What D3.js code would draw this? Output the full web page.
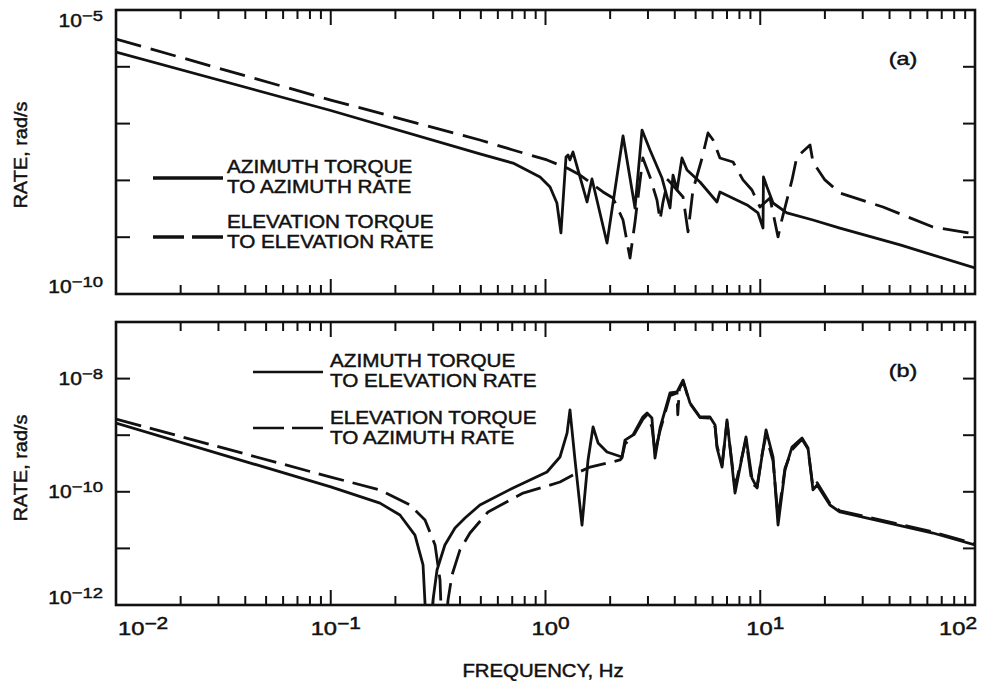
<!DOCTYPE html>
<html><head><meta charset="utf-8">
<script src="https://cdn.jsdelivr.net/npm/d3@7"></script>
<style>body{margin:0;background:#fff}svg{display:block}</style>
</head><body>
<svg id="chart" width="981" height="681"></svg>
<script>
// ---------- data ----------
const freqDomain = [0.01, 100];
const xTickValues = [0.01, 0.1, 1, 10, 100];
const xTickExps = ["−2", "−1", "0", "1", "2"];
const rangeA = [1e-10, 1e-5];
const rangeB = [1e-12, 1e-7];
const yTickValuesA = [1e-5, 1e-10];
const yTickExpsA = ["−5", "−10"];
const yTickValuesB = [1e-8, 1e-10, 1e-12];
const yTickExpsB = ["−8", "−10", "−12"];
const legendA = [["AZIMUTH TORQUE", "TO AZIMUTH RATE"], ["ELEVATION TORQUE", "TO ELEVATION RATE"]];
const legendB = [["AZIMUTH TORQUE", "TO ELEVATION RATE"], ["ELEVATION TORQUE", "TO AZIMUTH RATE"]];

// (a) azimuth torque -> azimuth rate (solid)
const azAzFreq = [0.01, 0.1, 0.495, 0.706, 0.943, 1.05, 1.13, 1.18, 1.246, 1.273, 1.30, 1.343, 1.561, 1.646, 1.934, 2.296, 2.611, 2.815, 3.066, 3.487, 3.80, 3.925, 4.096, 4.32, 4.56, 5.24, 6.29, 6.49, 8.68, 9.76, 10.3, 10.35, 10.75, 11.47, 13.3, 17.6, 23.5, 44.8, 100];
const azAzRate = [1.82e-6, 1.70e-7, 2.92e-8, 2.02e-8, 1.15e-8, 7.65e-9, 4.0e-9, 1.19e-9, 2.58e-8, 2.80e-8, 2.3e-8, 3.16e-8, 4.17e-9, 1.06e-8, 7.9e-10, 6.05e-8, 3.27e-9, 7.7e-8, 3.43e-8, 1.10e-8, 3.27e-9, 1.24e-8, 6.78e-9, 2.48e-8, 1.52e-8, 9.37e-9, 4.17e-9, 6.25e-9, 3.69e-9, 2.67e-9, 1.45e-9, 1.15e-8, 7.65e-9, 4.0e-9, 2.67e-9, 2.01e-9, 1.45e-9, 7.3e-10, 2.87e-10];
// (a) elevation torque -> elevation rate (dashed)
const elElFreq = [0.01, 0.1, 0.495, 0.706, 1.016, 1.26, 1.448, 1.853, 2.062, 2.296, 2.475, 2.611, 2.84, 3.066, 3.305, 3.415, 3.525, 3.72, 4.37, 4.61, 4.86, 5.36, 5.71, 6.03, 6.49, 7.47, 8.31, 9.15, 9.97, 11.1, 12.1, 12.6, 14.06, 14.8, 17.05, 17.6, 20.0, 23.5, 37.3, 63.7, 100];
const elElRate = [3.08e-6, 2.60e-7, 5.14e-8, 3.43e-8, 2.29e-8, 1.65e-8, 1.24e-8, 6.25e-9, 4.9e-9, 2.01e-9, 4.3e-10, 1.85e-9, 2.48e-8, 1.15e-8, 4.5e-9, 2.01e-9, 4.17e-9, 1.02e-8, 5.1e-9, 1.24e-9, 6.78e-9, 2.48e-8, 6.84e-8, 5.14e-8, 2.48e-8, 2.11e-8, 1.02e-8, 6.78e-9, 3.4e-9, 4.9e-9, 1.01e-9, 2.01e-9, 1.02e-8, 2.58e-8, 4.2e-8, 2.11e-8, 1.02e-8, 6.0e-9, 3.4e-9, 1.51e-9, 1.14e-9];
// (b) azimuth torque -> elevation rate (solid)
const azElFreq = [0.01, 0.1, 0.1696, 0.210, 0.2467, 0.269, 0.2838, 0.2993, 0.3125, 0.340, 0.379, 0.4218, 0.495, 0.706, 1.016, 1.168, 1.26, 1.30, 1.372, 1.479, 1.578, 1.665, 1.757, 1.934, 2.27, 2.345, 2.556, 2.84, 2.97, 3.13, 3.235, 3.415, 3.80, 4.096, 4.37, 4.71, 5.24, 5.83, 6.16, 6.29, 6.64, 7.0, 7.63, 8.58, 9.15, 9.66, 10.64, 11.47, 12.1, 13.04, 14.06, 15.65, 16.69, 17.6, 18.4, 21.1, 23.5, 63.7, 100];
const azElRate = [1.64e-9, 1.22e-10, 6.3e-11, 3.89e-11, 1.72e-11, 5.1e-12, 1e-13, 1.22e-12, 4.15e-12, 1.15e-11, 2.29e-11, 3.44e-11, 5.85e-11, 1.17e-10, 2.24e-10, 4.12e-10, 1.09e-9, 2.79e-9, 3.65e-10, 2.59e-11, 3.65e-10, 1.40e-9, 7.3e-10, 5.05e-10, 4.12e-10, 8.2e-10, 1.01e-9, 2.10e-9, 2.47e-9, 2.01e-9, 3.95e-10, 1.34e-9, 5.57e-9, 5.8e-9, 9.4e-9, 3.7e-9, 2.10e-9, 2.10e-9, 1.51e-9, 5.94e-10, 2.74e-10, 1.86e-9, 9.5e-11, 9.3e-10, 1.75e-10, 1.17e-10, 1.24e-9, 4.12e-10, 2.59e-11, 2.43e-10, 6.2e-10, 8.9e-10, 5.94e-10, 1.08e-10, 1.32e-10, 5.85e-11, 4.4e-11, 1.87e-11, 1.15e-11];
// (b) elevation torque -> azimuth rate (dashed)
const elAzFreq = [0.01, 0.1, 0.1696, 0.2339, 0.2748, 0.306, 0.3227, 0.3332, 0.3516, 0.367, 0.3997, 0.445, 0.54, 0.786, 1.016, 1.168, 1.402, 1.612, 2.223, 2.27, 2.345, 2.556, 2.84, 2.97, 3.13, 3.235, 3.415, 3.80, 4.096, 4.13, 4.2, 4.37, 4.71, 5.24, 5.83, 6.16, 6.29, 6.64, 7.0, 7.63, 8.58, 9.15, 9.66, 10.2, 10.64, 11.47, 12.1, 13.04, 14.06, 15.65, 16.69, 17.6, 18.4, 21.1, 23.5, 63.7, 100];
const elAzRate = [1.93e-9, 1.82e-10, 1.08e-10, 5.85e-11, 3.18e-11, 1.15e-11, 2.77e-12, 1e-13, 1.22e-12, 3.39e-12, 9.4e-12, 1.87e-11, 4.4e-11, 9.5e-11, 1.26e-10, 1.49e-10, 2.15e-10, 2.74e-10, 3.65e-10, 4.0e-10, 7.0e-10, 9.5e-10, 1.9e-9, 2.3e-9, 1.4e-9, 5.0e-10, 1.2e-9, 5.0e-9, 5.6e-9, 2.3e-9, 6.5e-9, 9.0e-9, 3.6e-9, 2.05e-9, 2.0e-9, 1.4e-9, 6.5e-10, 3.0e-10, 1.7e-9, 1.2e-10, 8.5e-10, 1.4e-10, 1.2e-10, 4.6e-10, 1.0e-9, 3.5e-10, 3.5e-11, 2.6e-10, 5.5e-10, 8.5e-10, 5.7e-10, 1.2e-10, 1.45e-10, 6.2e-11, 4.6e-11, 1.95e-11, 1.2e-11];

// ---------- layout ----------
const FONT = "'Liberation Sans', Arial, Helvetica, sans-serif";
const INK = "#111";
const L = 116, R = 975;
const panels = [
  {top: 10, bottom: 294, range: rangeA, ticks: yTickValuesA, exps: yTickExpsA, tag: "(a)", tagY: 65,
   series: [[azAzFreq, azAzRate, null], [elElFreq, elElRate, "26,10"]],
   legend: legendA, legLineX: [153, 223], legTextX: 227, legY: [178, 237], legTextBase: [173, 228], legW: 3,
   titleY: 155},
  {top: 322, bottom: 605, range: rangeB, ticks: yTickValuesB, exps: yTickExpsB, tag: "(b)", tagY: 377,
   series: [[azElFreq, azElRate, null], [elAzFreq, elAzRate, "26,9"]],
   legend: legendB, legLineX: [253, 323], legTextX: 330, legY: [372, 428], legTextBase: [367, 424], legW: 2,
   titleY: 468}
];

const svg = d3.select("#chart");
const x = d3.scaleLog().domain(freqDomain).range([L, R]);

function ink(t, w) {
  return t.attr("font-family", FONT).attr("fill", INK).attr("stroke", INK).attr("stroke-width", w);
}
function powerText(g, px, py, size, sx, anchor, base, sup) {
  const t = ink(g.append("text"), 0.45)
    .attr("transform", `translate(${px},${py}) scale(${sx},1)`)
    .attr("font-size", size).attr("text-anchor", anchor);
  t.append("tspan").text(base);
  if (sup) t.append("tspan").attr("dy", -6).attr("font-size", size * 0.88).text(sup);
  return t;
}

panels.forEach((p, pi) => {
  const g = svg.append("g");
  const y = d3.scaleLog().domain(p.range).range([p.bottom, p.top]);
  const clipId = "clip" + pi;
  svg.append("clipPath").attr("id", clipId).append("rect")
    .attr("x", L).attr("y", p.top).attr("width", R - L).attr("height", p.bottom - p.top);

  const isDecade = v => Math.abs(Math.log10(v) - Math.round(Math.log10(v))) < 1e-9;
  // x ticks (top and bottom, inward)
  x.ticks().forEach(v => {
    const len = isDecade(v) ? 15 : 9;
    const xx = x(v);
    if (xx <= L + 1 || xx >= R - 1) return;
    [[p.bottom, p.bottom - len], [p.top, p.top + len]].forEach(([a, b]) =>
      g.append("line").attr("x1", xx).attr("x2", xx).attr("y1", a).attr("y2", b)
        .attr("stroke", INK).attr("stroke-width", 2));
  });
  // y decade ticks (left and right, inward)
  y.ticks().filter(isDecade).forEach(v => {
    const yy = y(v);
    if (yy <= p.top + 1 || yy >= p.bottom - 1) return;
    g.append("line").attr("x1", L).attr("x2", L + 14).attr("y1", yy).attr("y2", yy)
      .attr("stroke", INK).attr("stroke-width", 2);
    g.append("line").attr("x1", R).attr("x2", R - 12).attr("y1", yy).attr("y2", yy)
      .attr("stroke", INK).attr("stroke-width", 2);
  });

  // frame
  g.append("rect").attr("x", L).attr("y", p.top).attr("width", R - L).attr("height", p.bottom - p.top)
    .attr("fill", "none").attr("stroke", INK).attr("stroke-width", 2.6);

  // y tick labels
  p.ticks.forEach((v, i) => {
    let yy = y(v) + 6;
    if (yy < p.top + 17) yy = p.top + 17;
    if (yy > p.bottom - 1) yy = p.bottom - 1;
    powerText(g, 103, yy, 17.5, 1.2, "end", "10", p.exps[i]);
  });

  // y title
  ink(g.append("text"), 0.45).attr("transform", `translate(27,${p.titleY}) rotate(-90) scale(1.05,1)`)
    .attr("font-size", 19).attr("text-anchor", "middle").text("RATE, rad/s");

  // panel tag
  powerText(g, 903, p.tagY, 18, 1.3, "middle", p.tag);

  // curves
  const line = d3.line().x(d => x(d[0])).y(d => y(d[1]));
  p.series.forEach(([fs, rs, dash]) => {
    const pts = fs.map((f, i) => [f, rs[i]]);
    g.append("path").attr("d", line(pts)).attr("clip-path", `url(#${clipId})`)
      .attr("fill", "none").attr("stroke", INK).attr("stroke-width", 2.8)
      .attr("stroke-linejoin", "round")
      .attr("stroke-dasharray", dash);
  });

  // legend
  p.legend.forEach((lines, li) => {
    const ly = p.legY[li];
    const segs = li === 0 ? [[p.legLineX[0], p.legLineX[1]]]
      : [[p.legLineX[0], (p.legLineX[0] + p.legLineX[1]) / 2 - 4], [(p.legLineX[0] + p.legLineX[1]) / 2 + 4, p.legLineX[1]]];
    segs.forEach(([a, b]) =>
      g.append("line").attr("x1", a).attr("x2", b).attr("y1", ly).attr("y2", ly)
        .attr("stroke", INK).attr("stroke-width", p.legW + 0.5));
    lines.forEach((txt, k) => {
      ink(g.append("text"), 0.45)
        .attr("transform", `translate(${p.legTextX},${p.legTextBase[li] + k * 20}) scale(1.15,1)`)
        .attr("font-size", 18).text(txt);
    });
  });
});

// x tick labels (bottom panel)
xTickValues.forEach((v, i) => {
  let anchor = "middle", px = x(v) + 5;
  if (i === 0) { anchor = "start"; px = L + 2; }
  if (i === xTickValues.length - 1) { anchor = "end"; px = R + 2; }
  powerText(svg, px, 635, 18, 1.32, anchor, "10", xTickExps[i]);
});
// x title
ink(svg.append("text"), 0.45).attr("transform", "translate(543,677) scale(1.1,1)")
  .attr("font-size", 18.5).attr("text-anchor", "middle").text("FREQUENCY, Hz");
</script>
</body></html>
